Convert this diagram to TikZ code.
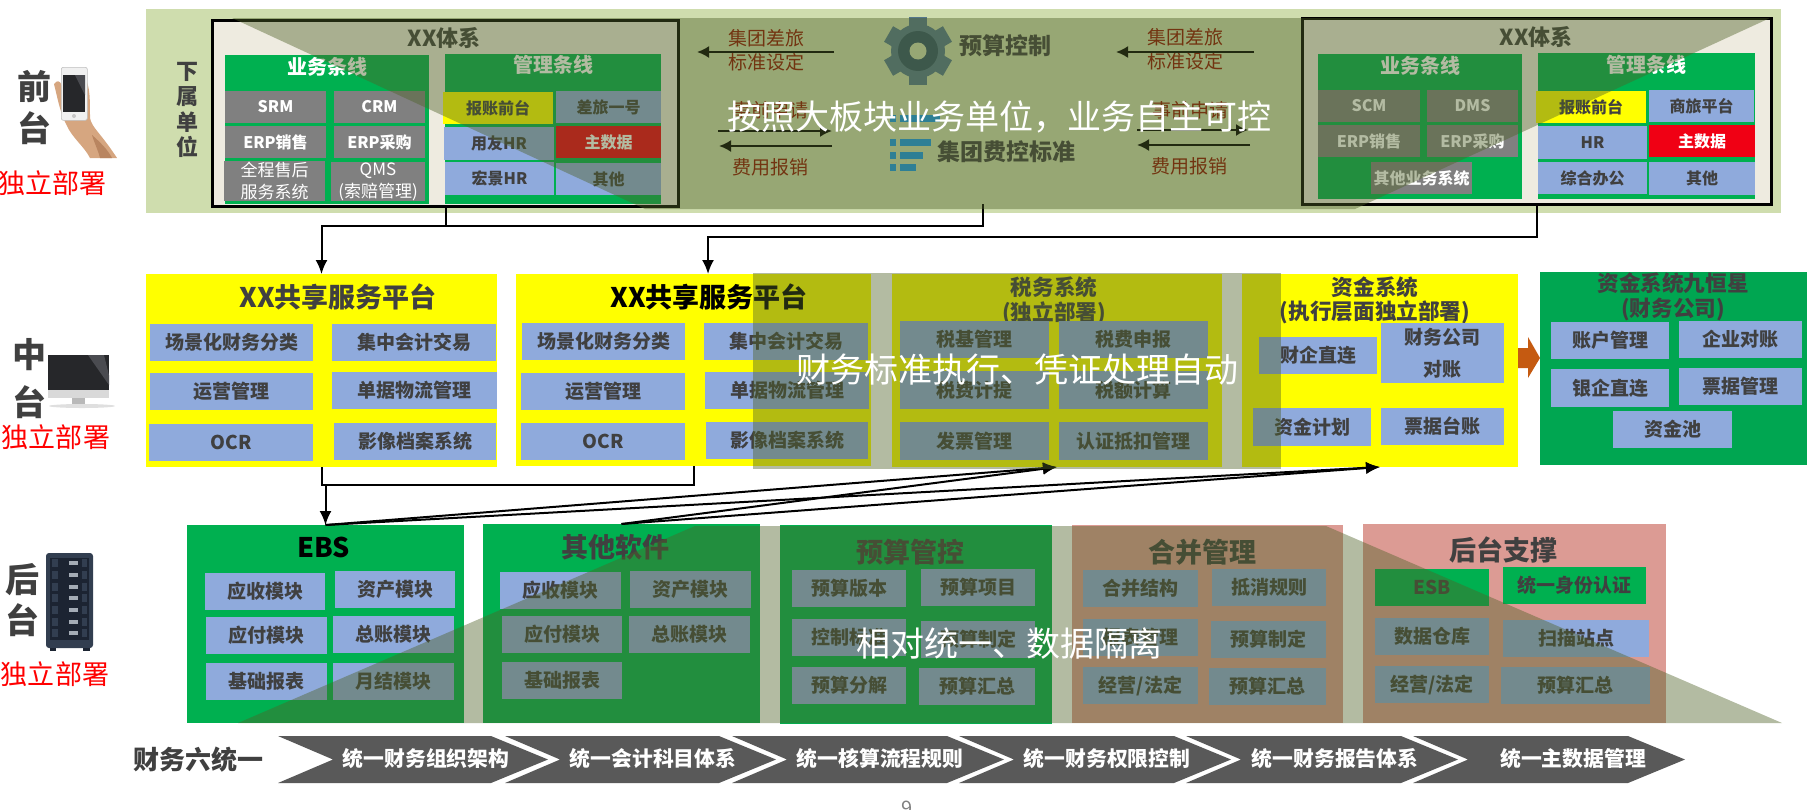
\documentclass[tikz,border=0pt]{standalone}
\usepackage{fontspec}
\setmainfont{Noto Sans CJK SC}
\usetikzlibrary{arrows.meta,calc}
\definecolor{txt}{HTML}{404040}
\definecolor{gbox}{HTML}{00B050}
\definecolor{gnine}{HTML}{00A651}
\definecolor{bbox}{HTML}{8FAADC}
\definecolor{gybox}{HTML}{808080}
\definecolor{pinkb}{HTML}{DC9B94}
\definecolor{bgtop}{HTML}{CFDDAE}
\definecolor{sysbg}{HTML}{EEEBE0}
\definecolor{olive}{HTML}{4F6228}
\definecolor{redb}{HTML}{F00014}
\definecolor{redt}{HTML}{FF0000}
\definecolor{yel}{HTML}{FFFF00}
\definecolor{brownt}{HTML}{8E1200}
\definecolor{chev}{HTML}{595959}
\definecolor{gearo}{HTML}{54778B}
\definecolor{geari}{HTML}{315166}
\definecolor{listc}{HTML}{1695E8}
\definecolor{skin}{HTML}{D6A680}
\definecolor{skind}{HTML}{B98560}
\definecolor{orng}{HTML}{C55A11}
\definecolor{srvb}{HTML}{323E50}
\definecolor{srvd}{HTML}{1C2432}
\definecolor{srvp}{HTML}{A4ACB6}
\definecolor{scr}{HTML}{26272A}
\definecolor{scrl}{HTML}{4A4B50}
\tikzset{
  x=0.5pt,y=-0.5pt,
  bxs/.style={inner sep=0pt,outer sep=0pt,align=center,text=txt,font=\fontsize{9.5}{11.5}\selectfont\bfseries},
  blue/.style={fill=bbox},
  small/.style={font=\fontsize{8}{10}\selectfont\bfseries},
  whitesm/.style={fill=gybox,text=white,font=\fontsize{8}{10}\selectfont\bfseries},
  whitereg/.style={fill=gybox,text=white,font=\fontsize{8.5}{11}\selectfont},
  ttl/.style={inner sep=0pt,text=txt,align=center,font=\fontsize{13.5}{16}\selectfont\bfseries},
  sttl/.style={inner sep=0pt,text=txt,align=center,font=\fontsize{10.8}{13}\selectfont\bfseries},
  wttl/.style={inner sep=0pt,text=white,font=\fontsize{10}{12}\selectfont\bfseries},
  side/.style={inner sep=0pt,text=txt,font=\fontsize{17}{20}\selectfont\bfseries},
  red4/.style={inner sep=0pt,text=redt,font=\fontsize{13.5}{16}\selectfont},
  brn/.style={inner sep=0pt,text=brownt,font=\fontsize{9.5}{11}\selectfont},
  head/.style={inner sep=0pt,text=txt,font=\fontsize{11.5}{14}\selectfont\bfseries},
  vert/.style={inner sep=0pt,text=txt,font=\fontsize{11}{13}\selectfont\bfseries},
  arrk/.style={line width=1pt,-{Latex[length=7pt,width=6pt]},black},
  arrs/.style={line width=1pt,-{Latex[length=6pt,width=6pt]},black},
  conn/.style={line width=1pt,black},
  ovl/.style={fill=olive,fill opacity=0.43},
  big/.style={inner sep=0pt,text=white,font=\fontsize{17}{20}\selectfont},
  chevt/.style={inner sep=0pt,text=white,font=\fontsize{10.4}{12}\selectfont\bfseries},
  sys/.style={draw=black,line width=1.5pt,fill=sysbg,minimum height=93pt,inner sep=0pt,anchor=north west},
  sysh/.style={inner sep=0pt,text=txt,font=\fontsize{11}{13}\selectfont\bfseries},
}
% [style]{name}{x1}{y1}{x2}{y2}{text}
\newcommand{\bx}[7][]{%
  \pgfmathsetmacro\bxw{(#5-#3)*0.5}\pgfmathsetmacro\bxh{(#6-#4)*0.5}%
  \node[bxs,minimum width=\bxw pt,minimum height=\bxh pt,anchor=north west,#1] (#2) at (#3,#4) {#7};}
\newcommand{\chv}[3]{%
  \fill[chev] (#2,736) -- (#3,736) -- ($(#3,736)+(57,23.5)$) -- (#3,783) -- (#2,783) -- ($(#2,736)+(55,23.5)$) -- cycle;
  \coordinate (#1) at (#2,759);}
\begin{document}
\begin{tikzpicture}
\useasboundingbox (0,0) rectangle (1807,809);
% === top band ===
\fill[bgtop] (146,9) rectangle (1781,213);
% left system
\node[sys,minimum width=233pt] (xxL) at (211,19) {};
\fill[gbox] (225,55) rectangle (429,204);
\fill[gbox] (445,54) rectangle (661,204);
\node[sysh] (xxLt) at (444,38) {XX体系};
\node[wttl] (ywL) at (327,67) {业务条线};
\node[wttl] (glL) at (553,65) {管理条线};
\bx[whitesm]{l1}{225}{91}{326}{123}{SRM}
\bx[whitesm]{l2}{334}{91}{425}{123}{CRM}
\bx[whitesm]{l3}{225}{126}{326}{158}{ERP销售}
\bx[whitesm]{l4}{334}{126}{425}{158}{ERP采购}
\bx[whitereg]{l5}{224}{161}{325}{201}{全程售后\\服务系统}
\bx[whitereg]{l6}{331}{162}{425}{201}{QMS\\(索赔管理)}
\bx[fill=yel,small]{l7}{443}{92}{553}{124}{报账前台}
\bx[blue,small]{l8}{556}{91}{661}{123}{差旅一号}
\bx[blue,small]{l9}{444}{127}{554}{160}{用友HR}
\bx[fill=redb,small,text=white]{l10}{556}{126}{661}{158}{主数据}
\bx[blue,small]{l11}{445}{162}{554}{195}{宏景HR}
\bx[blue,small]{l12}{556}{163}{661}{195}{其他}
% right system
\node[sys,minimum width=234.5pt] (xxR) at (1301,17) {};
\fill[gbox] (1318,54) rectangle (1522,199);
\fill[gbox] (1538,53) rectangle (1755,199);
\node[sysh] (xxRt) at (1536,37) {XX体系};
\node[wttl] (ywR) at (1420,66) {业务条线};
\node[wttl] (glR) at (1646,65) {管理条线};
\bx[whitesm]{r1}{1318}{90}{1420}{122}{SCM}
\bx[whitesm]{r2}{1427}{90}{1518}{122}{DMS}
\bx[whitesm]{r3}{1318}{125}{1420}{157}{ERP销售}
\bx[whitesm]{r4}{1427}{125}{1518}{157}{ERP采购}
\bx[whitesm]{r5}{1371}{162}{1472}{194}{其他业务系统}
\bx[fill=yel,small]{r7}{1536}{91}{1646}{123}{报账前台}
\bx[blue,small]{r8}{1649}{90}{1754}{122}{商旅平台}
\bx[blue,small]{r9}{1538}{126}{1647}{159}{HR}
\bx[fill=redb,small,text=white]{r10}{1649}{125}{1755}{157}{主数据}
\bx[blue,small]{r11}{1538}{162}{1647}{194}{综合办公}
\bx[blue,small]{r12}{1649}{162}{1755}{195}{其他}
% side label of band
\node[vert] (xs1) at (187,72) {下};
\node[vert] (xs2) at (187,97) {属};
\node[vert] (xs3) at (187,122) {单};
\node[vert] (xs4) at (187,147) {位};
% gear
\foreach \a in {0,60,...,300}{\fill[gearo,rotate around={\a:(918,51)}] (909,17) rectangle (927,35);}
\fill[gearo] (918,51) circle[radius=27];
\fill[geari] (918,51) circle[radius=20];
\fill[bgtop] (918,51) circle[radius=8.5];
\node[head] (bud) at (1005,46) {预算控制};
% list icon
\foreach \yy/\xe in {115/940,139/931,152/923,164/916}{
  \fill[listc] (890,\yy) rectangle ++(6,7);
  \fill[listc] (900,\yy) rectangle (\xe,\yy+7);}
\node[head] (fee) at (1006,152) {集团费控标准};
% band text and arrows
\node[brn] (a1) at (766,38) {集团差旅};
\node[brn] (a2) at (766,62) {标准设定};
\node[brn] (a3) at (1185,37) {集团差旅};
\node[brn] (a4) at (1185,61) {标准设定};
\node[brn] (a5) at (770,110) {事前申请};
\node[brn] (a6) at (1190,110) {事前申请};
\node[brn] (a7) at (770,167) {费用报销};
\node[brn] (a8) at (1189,166) {费用报销};
\coordinate (t1a) at (834,52); \coordinate (t1b) at (697,52);
\coordinate (t2a) at (1254,52); \coordinate (t2b) at (1116,52);
\coordinate (t3a) at (718,131); \coordinate (t3b) at (832,131);
\coordinate (t4a) at (832,146); \coordinate (t4b) at (719,146);
\coordinate (t5a) at (1137,130); \coordinate (t5b) at (1248,130);
\coordinate (t6a) at (1250,145); \coordinate (t6b) at (1137,145);
\foreach \p in {1,...,6}{\draw[arrs] (t\p a) -- (t\p b);}
% === front label ===
\node[side] (q1) at (35,87) {前};
\node[side] (q2) at (35,128) {台};
\fill[skin] (54,84) .. controls (57,80) and (60,80) .. (62,86) -- (86,80) .. controls (90,88) and (90,100) .. (90,118) .. controls (92,128) and (100,132) .. (117,158) -- (90,158) .. controls (84,146) and (72,138) .. (66,124) .. controls (60,112) and (58,100) .. (54,84) -- cycle;
\fill[skind] (92,135) .. controls (100,142) and (108,150) .. (112,158) -- (100,158) .. controls (98,150) and (94,142) .. (92,135) -- cycle;
\node[fill=gray!12,draw=gray!50,line width=.3pt,rounded corners=1pt,minimum width=13pt,minimum height=26.5pt,inner sep=0pt,anchor=north west] (phone) at (61,67) {};
\fill[scr] (63,75) rectangle (85,112);
\fill[scrl] (75,75) -- (85,75) -- (85,95) -- cycle;
\fill[gray!45] (74,116) circle[radius=2];
\node[red4] (ind1) at (52,183) {独立部署};
% === mid labels ===
\node[side] (m1) at (29,355) {中};
\node[side] (m2) at (29,402) {台};
\fill[scr] (48,355) rectangle (109,390);
\fill[scrl] (88,355) -- (104,355) -- (109,375) -- (109,385) -- cycle;
\fill[gray!30] (48,390) rectangle (109,398);
\fill[gray!55] (72,398) rectangle (85,407);
\fill[gray!25] (82,406) ellipse[x radius=33,y radius=2];
\node[red4] (ind2) at (56,437) {独立部署};
% === back labels ===
\node[side] (b1) at (22,580) {后};
\node[side] (b2) at (22,620) {台};
\fill[srvb,rounded corners=1.5pt] (46,553) rectangle (93,648);
\fill[srvd] (50,558) rectangle (89,640);
\foreach \yy in {563,575,587,598,610,622,633}{
  \fill[srvp] (69,\yy-2) rectangle (78,\yy+2);
  \fill[srvb] (52,\yy-4) rectangle (58,\yy+4);
  \fill[srvb] (82,\yy-4) rectangle (87,\yy+4);}
\fill[srvd] (50,648) rectangle (56,651);
\fill[srvd] (83,648) rectangle (90,651);
\node[red4] (ind3) at (55,674) {独立部署};
% === middle band ===
\bx[fill=yel]{p1}{146}{274}{497}{467}{}
\node[ttl] (p1t) at (338,297) {XX共享服务平台};
\bx[blue]{p11}{150}{324}{313}{361}{场景化财务分类}
\bx[blue]{p12}{332}{324}{496}{361}{集中会计交易}
\bx[blue]{p13}{150}{373}{313}{410}{运营管理}
\bx[blue]{p14}{332}{372}{497}{409}{单据物流管理}
\bx[blue]{p15}{149}{424}{313}{461}{OCR}
\bx[blue]{p16}{334}{423}{496}{460}{影像档案系统}
\bx[fill=yel]{p2}{516}{274}{871}{466}{}
\node[ttl,text=black] (p2t) at (709,297) {XX共享服务平台};
\bx[blue]{p21}{522}{323}{685}{360}{场景化财务分类}
\bx[blue]{p22}{704}{323}{868}{360}{集中会计交易}
\bx[blue]{p23}{521}{373}{685}{410}{运营管理}
\bx[blue]{p24}{705}{372}{869}{409}{单据物流管理}
\bx[blue]{p25}{521}{423}{685}{460}{OCR}
\bx[blue]{p26}{706}{422}{868}{459}{影像档案系统}
\bx[fill=yel]{tax}{892}{274}{1222}{467}{}
\node[sttl] (taxt) at (1054,287) {税务系统};
\node[sttl] (taxs) at (1054,313) {(独立部署)};
\bx[blue]{t1}{900}{321}{1049}{358}{税基管理}
\bx[blue]{t2}{1059}{321}{1208}{358}{税费申报}
\bx[blue]{t3}{900}{371}{1049}{409}{税费计提}
\bx[blue]{t4}{1059}{371}{1208}{409}{税额计算}
\bx[blue]{t5}{900}{422}{1049}{460}{发票管理}
\bx[blue]{t6}{1059}{422}{1208}{460}{认证抵扣管理}
\bx[fill=yel]{fund}{1242}{274}{1518}{467}{}
\node[sttl] (fundt) at (1375,287) {资金系统};
\node[sttl] (funds) at (1375,312) {(执行层面独立部署)};
\bx[blue]{f1}{1259}{337}{1377}{374}{财企直连}
\bx[blue,font=\fontsize{9.5}{16}\selectfont\bfseries]{f2}{1381}{323}{1504}{383}{财务公司\\对账}
\bx[blue]{f3}{1253}{408}{1371}{446}{资金计划}
\bx[blue]{f4}{1381}{408}{1504}{445}{票据台账}
\fill[orng] (1518,348) -- (1528,348) -- (1528,337) -- (1540,358) -- (1528,378) -- (1528,368) -- (1518,368) -- cycle;
\bx[fill=gnine]{nine}{1540}{272}{1807}{465}{}
\node[sttl] (ninet) at (1673,283) {资金系统九恒星};
\node[sttl] (nines) at (1673,309) {(财务公司)};
\bx[blue]{n1}{1551}{322}{1669}{359}{账户管理}
\bx[blue]{n2}{1679}{321}{1802}{358}{企业对账}
\bx[blue]{n3}{1551}{369}{1669}{407}{银企直连}
\bx[blue]{n4}{1679}{368}{1802}{405}{票据管理}
\bx[blue]{n5}{1613}{411}{1732}{448}{资金池}
% === bottom band ===
\bx[fill=gbox]{ebs}{187}{525}{464}{723}{}
\node[ttl,text=black] (ebst) at (324,547) {EBS};
\bx[blue]{e1}{205}{573}{325}{610}{应收模块}
\bx[blue]{e2}{335}{571}{455}{608}{资产模块}
\bx[blue]{e3}{206}{617}{327}{654}{应付模块}
\bx[blue]{e4}{333}{616}{454}{653}{总账模块}
\bx[blue]{e5}{206}{663}{327}{700}{基础报表}
\bx[blue]{e6}{333}{663}{454}{700}{月结模块}
\bx[fill=gbox]{oth}{483}{524}{760}{723}{}
\node[ttl] (otht) at (615,547) {其他软件};
\bx[blue]{o1}{500}{572}{621}{609}{应收模块}
\bx[blue]{o2}{630}{571}{751}{608}{资产模块}
\bx[blue]{o3}{502}{616}{622}{653}{应付模块}
\bx[blue]{o4}{629}{616}{750}{653}{总账模块}
\bx[blue]{o5}{502}{662}{622}{699}{基础报表}
\bx[fill=gbox]{yskt}{780}{525}{1052}{724}{}
\node[ttl] (ysktt) at (910,552) {预算管控};
\bx[blue]{y1}{792}{570}{906}{607}{预算版本}
\bx[blue]{y2}{921}{569}{1035}{606}{预算项目}
\bx[blue]{y3}{792}{619}{906}{656}{控制标准}
\bx[blue]{y4}{921}{621}{1035}{658}{预算制定}
\bx[blue]{y5}{792}{667}{906}{704}{预算分解}
\bx[blue]{y6}{919}{668}{1035}{705}{预算汇总}
\bx[fill=pinkb]{hb}{1072}{525}{1343}{723}{}
\node[ttl] (hbt) at (1202,552) {合并管理};
\bx[blue]{h1}{1083}{570}{1198}{607}{合并结构}
\bx[blue]{h2}{1212}{569}{1326}{606}{抵消规则}
\bx[blue]{h3}{1083}{619}{1198}{656}{报表管理}
\bx[blue]{h4}{1211}{621}{1326}{658}{预算制定}
\bx[blue]{h5}{1083}{667}{1198}{704}{经营/法定}
\bx[blue]{h6}{1209}{668}{1326}{705}{预算汇总}
\bx[fill=pinkb]{ht}{1363}{524}{1666}{723}{}
\node[ttl] (htt) at (1503,550) {后台支撑};
\bx[fill=gbox]{s1}{1375}{569}{1489}{606}{ESB}
\bx[fill=gbox]{s2}{1503}{567}{1646}{604}{统一身份认证}
\bx[blue]{s3}{1375}{618}{1489}{655}{数据仓库}
\bx[blue]{s4}{1503}{620}{1649}{657}{扫描站点}
\bx[blue]{s5}{1375}{666}{1489}{703}{经营/法定}
\bx[blue]{s6}{1501}{667}{1650}{704}{预算汇总}
% === connectors ===
\coordinate (j1) at (321.5,226);
\coordinate (c1) at (983,204);
\coordinate (j2) at (708,237);
\coordinate (p2in) at (708,274);
\coordinate (j3) at (325.5,485);
\draw[conn] (c1) |- (j1);
\draw[arrk] (xxL.south) |- (j1) -- (p1.north);
\draw[arrk] (xxR.south) |- (j2) -- (p2in);
\draw[conn] (p1.south) |- (j3) -| (p2.south);
\draw[arrk] (j3) -- (ebs.north);
\foreach \s in {ebs,oth}{
  \draw[arrk] (\s.north) -- (tax.south);
  \draw[arrk] (\s.north) -- (fund.south);}
% === chevrons ===
\node[inner sep=0pt,text=txt,font=\fontsize{13}{16}\selectfont\bfseries] (six) at (198,760) {财务六统一};
\chv{c1a}{278}{491}
\chv{c2a}{505}{719}
\chv{c3a}{732}{947}
\chv{c4a}{959}{1174}
\chv{c5a}{1186}{1401}
\chv{c6a}{1413}{1628}
\node[chevt] (ct1) at (426,759) {统一财务组织架构};
\node[chevt] (ct2) at (653,759) {统一会计科目体系};
\node[chevt] (ct3) at (880,759) {统一核算流程规则};
\node[chevt] (ct4) at (1107,759) {统一财务权限控制};
\node[chevt] (ct5) at (1335,759) {统一财务报告体系};
\node[chevt] (ct6) at (1573,759) {统一主数据管理};
\node[inner sep=0pt,text=gray,font=\fontsize{10}{12}\selectfont] (pg) at (907,808) {9};
% === overlays ===
\fill[ovl] (232,18) -- (1770,18) -- (1355,209) -- (645,209) -- cycle;
\fill[ovl] (753,273) rectangle (1281,469);
\fill[ovl] (695,526) -- (1326,526) -- (1782,723) -- (238,723) -- cycle;
\node[big] (ov1) at (999,117) {按照大板块业务单位，业务自主可控};
\node[big] (ov2) at (1017,370) {财务标准执行、凭证处理自动};
\node[big] (ov3) at (1009,643) {相对统一、数据隔离};
\end{tikzpicture}
\end{document}
